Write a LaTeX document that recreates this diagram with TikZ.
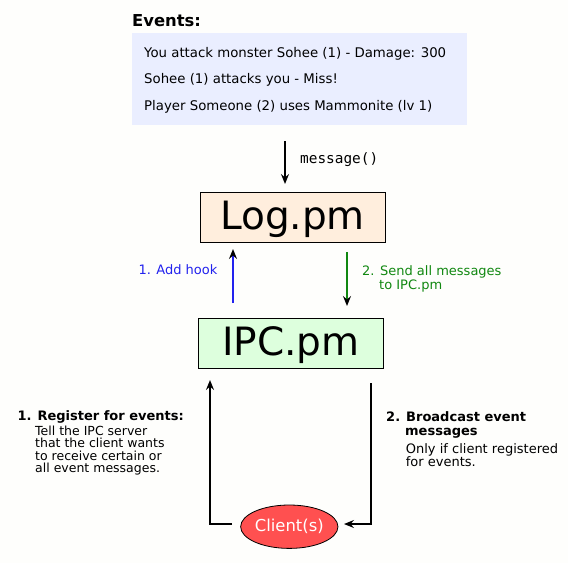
\documentclass[tikz,border=0pt]{standalone}
\usepackage{fontspec}
\setmainfont{DejaVu Sans}
\newfontfamily\monofam{DejaVu Sans Mono}
\usetikzlibrary{arrows.meta,shapes.geometric}
\definecolor{bgc}{HTML}{FEFEFC}
\definecolor{evfill}{HTML}{EAEEFF}
\definecolor{logfill}{HTML}{FFEEDD}
\definecolor{ipcfill}{HTML}{DDFFDD}
\definecolor{cliefill}{HTML}{FF5050}
\definecolor{hookblue}{HTML}{2222EE}
\definecolor{sendgreen}{HTML}{118811}
\tikzset{
  txt/.style={anchor=base west, inner sep=0pt},
  evline/.style={txt, font=\fontsize{13.3}{15}\selectfont},
  lblline/.style={txt, font=\fontsize{13}{15}\selectfont},
  smallline/.style={txt, font=\fontsize{12.5}{14}\selectfont},
  boldline/.style={txt, font=\fontsize{13}{15}\selectfont\bfseries},
  bigbox/.style={draw=black, line width=0.8pt, rectangle, minimum width=185pt, minimum height=50pt,
     inner sep=0pt, text height=30pt, text depth=5pt, font=\fontsize{39}{44}\selectfont},
  arr/.style={-{Stealth[length=10pt,width=8pt,inset=3.5pt,color=black]}, line width=1.6pt},
  loop/.style={arr, line width=2pt},
}
\begin{document}
\begin{tikzpicture}[x=1pt,y=-1pt]
\fill[bgc] (0,0) rectangle (568,563);
\useasboundingbox (0,0) rectangle (568,563);

% Events
\node[txt, font=\fontsize{16.4}{18}\selectfont\bfseries] (evtitle) at (132,26) {Events:};
\node[fill=evfill, rectangle, anchor=north west, minimum width=335pt, minimum height=92pt, inner sep=0pt] (ev) at (132,33) {};
\node[evline] (e1) at (144,57) {You attack monster Sohee (1) - Damage: 300};
\node[evline] (e2) at (144,83.5) {Sohee (1) attacks you - Miss!};
\node[evline] (e3) at (144,110.5) {Player Someone (2) uses Mammonite (lv 1)};

% message()
\coordinate (m1) at (285,141);
\coordinate (m2) at (285,184);
\draw[arr] (m1) -- (m2);
\node[txt, font=\monofam\fontsize{14.4}{16}\selectfont] (msg) at (300,163.5) {message()};

% boxes
\node[bigbox, fill=logfill] (log) at (292.5,217) {Log.pm};
\node[bigbox, fill=ipcfill] (ipc) at (291,343) {IPC.pm};

% hook arrows
\coordinate (h1) at (233,303);
\coordinate (h2) at (233,249);
\draw[arr, hookblue] (h1) -- (h2);
\node[lblline, text=hookblue] (hooklbl) at (138.3,274) {1. Add hook};

\coordinate (s1) at (347,252);
\coordinate (s2) at (347,306);
\draw[arr, sendgreen] (s1) -- (s2);
\node[lblline, text=sendgreen] (send1) at (362,275.7) {2. Send all messages};
\node[lblline, text=sendgreen] (send2) at (379,289) {to IPC.pm};

% client
\node[ellipse, draw=black, line width=0.8pt, fill=cliefill, minimum width=93.4pt, minimum height=43.4pt, inner sep=0pt,
      text=white, font=\fontsize{16.4}{18}\selectfont] (client) at (289.3,526.7) {Client(s)};

\coordinate (l1) at (232,524);
\coordinate (l2) at (210,380);
\draw[loop] (l1) -| (l2);
\coordinate (r1) at (371.3,383);
\coordinate (r2) at (344,524);
\draw[loop] (r1) |- (r2);

% left texts
\node[boldline] (reg) at (17.3,420) {1. Register for events:};
\node[smallline] (t1) at (35,435.7) {Tell the IPC server};
\node[smallline] (t2) at (35,447.9) {that the client wants};
\node[smallline] (t3) at (35,460.1) {to receive certain or};
\node[smallline] (t4) at (35,472.3) {all event messages.};

% right texts
\node[boldline] (bc1) at (386,421.7) {2. Broadcast event};
\node[boldline] (bc2) at (405,435.7) {messages};
\node[lblline] (o1) at (405.7,453.3) {Only if client registered};
\node[lblline] (o2) at (405.7,466) {for events.};
\end{tikzpicture}
\end{document}
